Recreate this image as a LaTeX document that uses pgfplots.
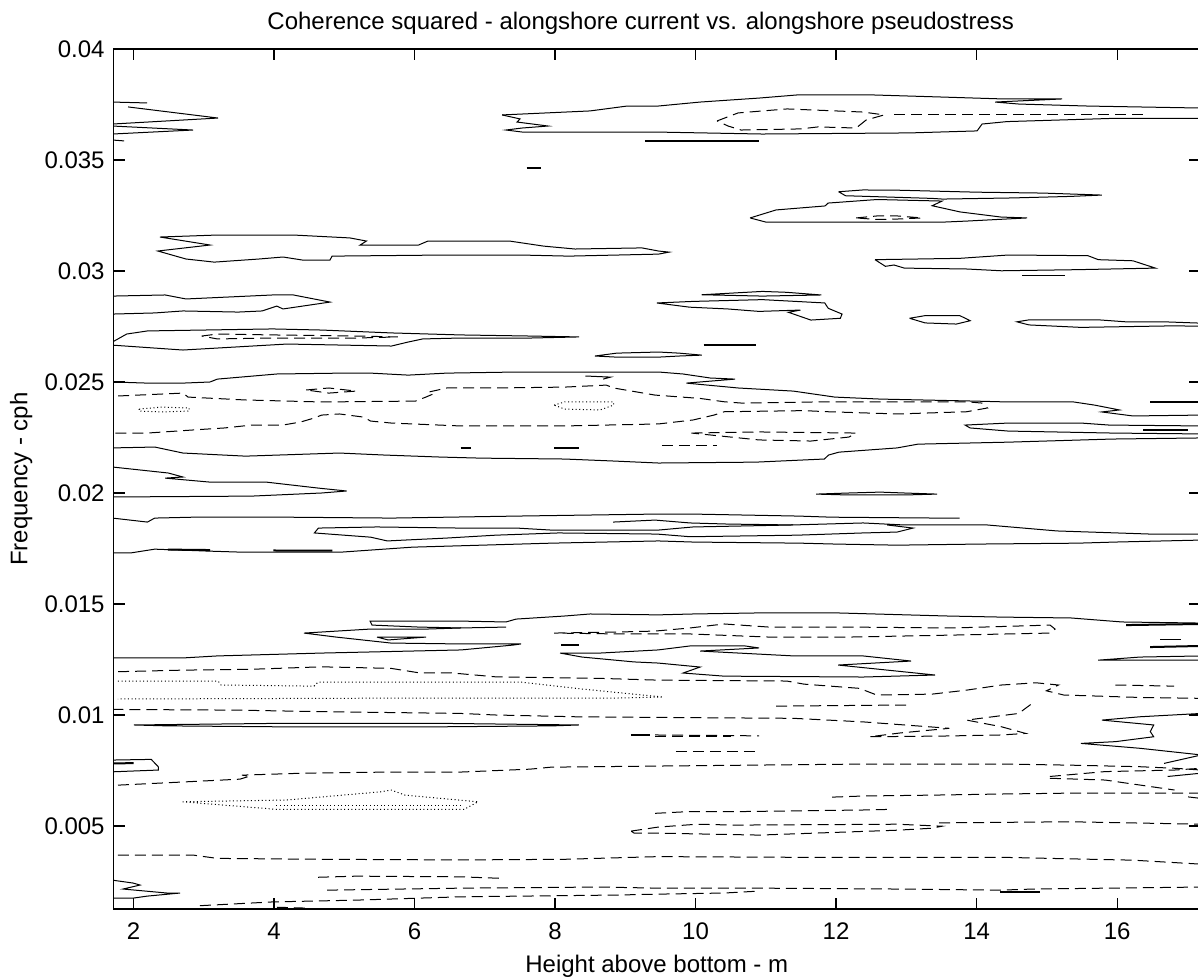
\documentclass[border=0pt]{standalone}
\usepackage{fontspec}
\setmainfont{Liberation Sans}
\usepackage{pgfplots}
\pgfplotsset{compat=1.18}
\pgfplotsset{
  cl/.style={black, line width=0.5pt, mark=none},
  dl/.style={black, line width=0.5pt, mark=none, dash pattern=on 5.5pt off 3pt},
  ol/.style={black, line width=0.5pt, mark=none, dash pattern=on 0.5pt off 1.3pt},
  tk/.style={black, line width=1pt, mark=none},
}
\begin{document}
\begin{tikzpicture}
\begin{axis}[
  scale only axis, width=543.25pt, height=430pt,
  xmin=1.715, xmax=17.18, ymin=0.00126, ymax=0.04,
  xtick={2,4,6,8,10,12,14,16},
  xticklabels={2,4,6,8,10,12,14,16},
  ytick={0.005,0.01,0.015,0.02,0.025,0.03,0.035,0.04},
  yticklabels={0.005,0.01,0.015,0.02,0.025,0.03,0.035,0.04},
  scaled y ticks=false,
  tick align=inside, tick pos=both,
  major tick length=5.5pt,
  axis line style={line width=0.6pt},
  tick style={line width=0.6pt, black},
  tick label style={font=\fontsize{12}{14}\selectfont},
  xticklabel style={anchor=base, yshift=-15pt},
  yticklabel style={anchor=east, inner sep=0pt, xshift=-4.25pt},
]
\coordinate (sw) at (rel axis cs:0,0);
\coordinate (ne) at (rel axis cs:1,1);
\coordinate (tc) at (rel axis cs:0.5,1);
\coordinate (bc) at (rel axis cs:0.5,0);
\coordinate (lc) at (rel axis cs:0,0.5);

% top left cluster near 0.037
\addplot[cl] coordinates {(1.70,0.03761)(2.192,0.03757)};
\addplot[cl] coordinates {(1.922,0.03739)(3.203,0.03689)(1.70,0.03662)};
\addplot[cl] coordinates {(1.70,0.03653)(2.847,0.03635)(1.70,0.03617)};
\addplot[cl] coordinates {(1.70,0.03590)(1.865,0.03586)};
% 0.037 band, right half
\addplot[cl] coordinates {(7.246,0.03703)(8.498,0.03721)(9.025,0.03743)(9.466,0.03743)(10.064,0.03761)(10.904,0.03779)(11.445,0.03793)(12.527,0.03793)(13.466,0.03784)(14.377,0.03775)(15.217,0.03775)(14.263,0.03761)(14.605,0.03752)(15.587,0.03743)(16.299,0.03739)(17.2,0.03734)};
\addplot[cl] coordinates {(7.246,0.03703)(7.502,0.03685)(7.459,0.03671)(7.900,0.03653)(7.530,0.03644)(7.302,0.03635)(7.530,0.03626)(8.498,0.03626)(9.423,0.03626)(10.947,0.03617)(13.053,0.03622)(14.007,0.03631)(14.078,0.03662)(14.434,0.03673)(16.000,0.03688)(17.2,0.03688)};
\addplot[dl] coordinates {(10.306,0.03676)(10.605,0.03712)(11.302,0.03730)(12.384,0.03716)(12.683,0.03703)(12.427,0.03680)(12.285,0.03644)(11.744,0.03649)(11.488,0.03640)(10.648,0.03635)(10.463,0.03653)(10.306,0.03676)};
\addplot[dl] coordinates {(12.826,0.03703)(16.427,0.03703)};
\addplot[tk] coordinates {(9.28,0.03586)(10.904,0.03586)};
\addplot[tk] coordinates {(7.596,0.03464)(7.794,0.03464)};
% 0.033 loops
\addplot[cl] coordinates {(12.036,0.03357)(12.381,0.03365)(12.874,0.03364)(14.007,0.03355)(14.944,0.03351)(15.782,0.03342)(15.338,0.03336)(14.500,0.03329)(13.515,0.03324)(13.367,0.03327)(12.134,0.03339)(12.036,0.03357)};
\addplot[cl] coordinates {(10.776,0.03239)(11.146,0.03275)(11.843,0.03293)(11.886,0.03306)(12.584,0.03322)(13.509,0.03315)(13.367,0.03294)(13.765,0.03266)(14.349,0.03243)(14.719,0.03239)(13.865,0.03225)(13.509,0.03220)(12.868,0.03220)(11.004,0.03220)(10.776,0.03239)};
\addplot[dl] coordinates {(12.285,0.03239)(12.584,0.03248)(12.868,0.03248)(13.224,0.03239)(12.868,0.03234)(12.584,0.03232)(12.285,0.03239)};
% 0.031 band
\addplot[cl] coordinates {(2.376,0.03153)(3.193,0.03162)(4.276,0.03162)(5.078,0.03149)(5.315,0.03135)(5.226,0.03117)(6.057,0.03117)(6.191,0.03135)(7.349,0.03135)(7.839,0.03112)(8.285,0.03099)(9.236,0.03104)(9.472,0.03090)(9.623,0.03085)(9.472,0.03076)(8.195,0.03067)(7.498,0.03072)(6.458,0.03072)(4.826,0.03067)(4.796,0.03049)(4.410,0.03049)(4.128,0.03063)(3.786,0.03054)(3.149,0.03040)(2.747,0.03054)(2.346,0.03090)(3.089,0.03117)(2.376,0.03153)};
% 0.030 loop right
\addplot[cl] coordinates {(12.554,0.03051)(13.761,0.03057)(14.451,0.03072)(15.584,0.03069)(15.733,0.03051)(16.225,0.03046)(16.545,0.03013)(15.436,0.03006)(14.353,0.03001)(13.859,0.03009)(12.972,0.03013)(12.824,0.03027)(12.702,0.03021)(12.554,0.03051)};
\addplot[cl] coordinates {(14.647,0.02979)(15.264,0.02979)};
% 0.029 - 0.028
\addplot[cl] coordinates {(1.70,0.02887)(2.450,0.02892)(2.747,0.02874)(3.979,0.02892)(4.276,0.02892)(4.796,0.02860)(4.128,0.02829)(4.038,0.02842)(3.831,0.02820)(3.489,0.02815)(2.703,0.02820)(2.302,0.02811)(1.70,0.02806)};
\addplot[cl] coordinates {(10.088,0.02893)(10.951,0.02908)(11.297,0.02904)(11.789,0.02892)(10.951,0.02887)(10.088,0.02893)};
\addplot[cl] coordinates {(9.448,0.02856)(9.966,0.02863)(10.951,0.02871)(11.839,0.02856)(11.888,0.02832)(12.085,0.02806)(12.060,0.02787)(11.641,0.02779)(11.321,0.02814)(11.493,0.02824)(10.902,0.02818)(10.458,0.02829)(9.916,0.02837)(9.448,0.02856)};
\addplot[cl] coordinates {(13.046,0.02787)(13.268,0.02799)(13.761,0.02799)(13.909,0.02776)(13.711,0.02761)(13.268,0.02766)(13.046,0.02787)};
\addplot[cl] coordinates {(17.2,0.02765)(16.669,0.02771)(16.127,0.02771)(15.733,0.02780)(14.747,0.02780)(14.574,0.02771)(14.747,0.02757)(15.486,0.02746)(16.817,0.02753)(17.2,0.02751)};
% 0.027 band
\addplot[cl] coordinates {(1.70,0.02680)(1.902,0.02716)(2.198,0.02730)(3.979,0.02739)(4.678,0.02734)(5.671,0.02721)(6.652,0.02712)(7.646,0.02707)(8.343,0.02703)(7.646,0.02698)(6.652,0.02698)(6.117,0.02694)(5.909,0.02680)(5.671,0.02662)(4.186,0.02671)(2.703,0.02644)(1.70,0.02666)};
\addplot[dl] coordinates {(2.969,0.02707)(3.193,0.02716)(3.979,0.02712)(5.167,0.02707)(5.761,0.02703)(5.167,0.02698)(3.979,0.02698)(3.193,0.02694)(2.969,0.02707)};
\addplot[tk] coordinates {(10.114,0.02666)(10.853,0.02666)};
\addplot[cl] coordinates {(8.567,0.02617)(8.878,0.02630)(9.472,0.02635)(9.764,0.02630)(10.088,0.02621)(9.764,0.02617)(9.472,0.02612)(8.878,0.02612)(8.567,0.02617)};
% 0.025 line
\addplot[cl] coordinates {(1.70,0.02500)(2.198,0.02495)(2.703,0.02495)(3.089,0.02500)(3.193,0.02513)(4.038,0.02536)(4.974,0.02540)(5.375,0.02540)(5.909,0.02531)(6.458,0.02540)(7.468,0.02545)(9.472,0.02545)(9.822,0.02536)(10.208,0.02518)(10.562,0.02513)(9.868,0.02495)(10.607,0.02473)(11.391,0.02459)(11.982,0.02432)(12.632,0.02423)(13.963,0.02414)(14.451,0.02410)(15.382,0.02410)(15.678,0.02396)(16.033,0.02374)(15.782,0.02365)(16.226,0.02347)(17.2,0.02351)};
\addplot[tk] coordinates {(16.47,0.02411)(17.2,0.02411)};
\addplot[cl] coordinates {(8.433,0.02527)(8.789,0.02522)(8.685,0.02513)};
% 0.024 dashed
\addplot[dl] coordinates {(1.782,0.02437)(2.703,0.02450)(2.777,0.02432)(3.593,0.02419)(4.678,0.02410)(6.013,0.02414)(6.161,0.02432)(6.265,0.02446)(6.206,0.02455)(6.458,0.02473)(7.156,0.02473)(8.135,0.02477)(8.729,0.02486)(8.833,0.02473)(9.423,0.02441)(10.064,0.02426)(10.406,0.02411)(10.656,0.02405)(11.886,0.02411)(13.859,0.02411)(14.078,0.02405)(14.155,0.02383)(13.859,0.02366)(12.874,0.02356)(11.888,0.02366)(11.543,0.02371)(10.410,0.02366)(10.262,0.02351)(9.966,0.02329)(9.472,0.02311)(8.135,0.02302)(6.652,0.02302)(5.671,0.02315)(5.375,0.02324)(5.271,0.02342)(4.930,0.02356)(4.678,0.02351)(4.574,0.02338)(4.381,0.02320)(4.128,0.02306)(3.683,0.02306)(3.297,0.02293)(2.851,0.02284)(2.198,0.02270)(1.70,0.02270)};
\addplot[dl] coordinates {(4.457,0.02464)(4.781,0.02473)(5.167,0.02459)(4.781,0.02450)(4.457,0.02464)};
\addplot[ol] coordinates {(2.080,0.02378)(2.406,0.02387)(2.791,0.02383)(2.791,0.02369)(2.406,0.02365)(2.080,0.02369)(2.080,0.02378)};
\addplot[ol] coordinates {(7.987,0.02396)(8.135,0.02410)(8.833,0.02410)(8.833,0.02396)(8.641,0.02374)(8.135,0.02378)(7.987,0.02396)};
% 0.023 right
\addplot[cl] coordinates {(17.2,0.02302)(15.886,0.02306)(15.488,0.02315)(14.448,0.02315)(13.836,0.02306)(13.907,0.02293)(14.448,0.02279)(15.930,0.02270)(17.2,0.02266)};
\addplot[tk] coordinates {(16.37,0.02284)(17.01,0.02284)};
\addplot[dl] coordinates {(9.942,0.02270)(10.902,0.02275)(12.282,0.02270)(12.184,0.02252)(11.641,0.02234)(10.902,0.02239)(9.942,0.02270)};
\addplot[dl] coordinates {(9.52,0.02216)(10.31,0.02216)};
% 0.0215 line
\addplot[cl] coordinates {(1.70,0.02203)(2.302,0.02207)(2.703,0.02180)(3.593,0.02166)(4.930,0.02180)(5.567,0.02171)(6.354,0.02162)(6.948,0.02157)(8.135,0.02153)(8.833,0.02144)(9.472,0.02135)(10.858,0.02139)(11.833,0.02153)(11.893,0.02171)(12.041,0.02184)(12.868,0.02203)(13.164,0.02220)(14.451,0.02229)(15.930,0.02243)(17.2,0.02248)};
\addplot[tk] coordinates {(6.656,0.02201)(6.804,0.02201)};
\addplot[tk] coordinates {(7.991,0.02201)(8.339,0.02201)};
% 0.020
\addplot[cl] coordinates {(1.70,0.02117)(2.495,0.02090)(2.703,0.02072)(2.450,0.02067)(3.089,0.02049)(3.890,0.02049)(4.632,0.02022)(5.033,0.02009)(4.678,0.02000)(3.683,0.01986)(1.70,0.01982)};
\addplot[cl] coordinates {(11.715,0.01995)(12.185,0.02000)(12.626,0.02004)(12.968,0.02000)(13.438,0.01995)(12.968,0.01991)(12.185,0.01991)(11.715,0.01995)};
% 0.0185 - 0.0175
\addplot[cl] coordinates {(1.70,0.01887)(2.198,0.01869)(2.302,0.01887)(2.851,0.01891)(4.186,0.01891)(5.671,0.01887)(7.453,0.01896)(9.423,0.01905)(9.970,0.01905)(11.465,0.01896)(11.938,0.01891)(13.460,0.01887)(13.757,0.01887)};
\addplot[cl] coordinates {(8.826,0.01869)(9.423,0.01878)(9.922,0.01865)(10.463,0.01860)(11.388,0.01856)};
\addplot[cl] coordinates {(17.2,0.01815)(16.470,0.01815)(15.146,0.01829)(14.149,0.01856)(12.968,0.01856)(12.384,0.01865)(11.388,0.01856)(9.964,0.01847)(9.472,0.01833)(7.943,0.01833)(7.453,0.01842)(6.652,0.01842)(5.463,0.01847)(4.632,0.01842)(4.574,0.01820)(5.375,0.01801)(5.613,0.01784)(5.865,0.01788)(6.458,0.01797)(7.156,0.01810)(8.047,0.01820)(9.45,0.01815)(9.922,0.01803)(11.445,0.01810)(12.384,0.01820)(12.868,0.01824)(13.096,0.01842)(12.726,0.01856)};
\addplot[cl] coordinates {(1.70,0.01730)(1.960,0.01730)(2.302,0.01747)(3.089,0.01738)(3.489,0.01734)(3.786,0.01734)(4.974,0.01734)(5.969,0.01756)(7.943,0.01774)(9.472,0.01784)(9.970,0.01779)(11.493,0.01774)(11.982,0.01770)(12.868,0.01765)(14.051,0.01770)(15.442,0.01774)(15.974,0.01779)(17.2,0.01788)};
\addplot[tk] coordinates {(2.49,0.01745)(3.09,0.01743)};
\addplot[tk] coordinates {(3.99,0.01741)(4.83,0.01740)};
% 0.014 band
\addplot[cl] coordinates {(17.2,0.01414)(16.071,0.01419)(15.345,0.01437)(14.349,0.01441)(13.566,0.01446)(11.986,0.01460)(10.947,0.01460)(9.964,0.01455)(9.466,0.01451)(8.498,0.01455)(8.142,0.01446)(7.445,0.01432)(7.302,0.01419)(6.648,0.01423)(5.964,0.01423)(5.367,0.01423)(5.395,0.01405)(6.064,0.01396)(6.662,0.01392)(7.302,0.01396)};
\addplot[cl] coordinates {(1.70,0.01257)(2.705,0.01257)(3.189,0.01266)(4.683,0.01279)(6.662,0.01293)(7.402,0.01315)(7.516,0.01320)(6.662,0.01320)(5.665,0.01324)(4.883,0.01351)(4.427,0.01369)(5.367,0.01387)(6.164,0.01387)(6.662,0.01392)};
\addplot[cl] coordinates {(5.466,0.01351)(6.164,0.01351)(5.623,0.01338)(5.466,0.01351)};
\addplot[dl] coordinates {(7.986,0.01369)(8.925,0.01374)(9.423,0.01378)(9.922,0.01392)(10.406,0.01410)(11.046,0.01396)(12.185,0.01396)(13.665,0.01392)(15.046,0.01405)(15.117,0.01387)(15.046,0.01369)(13.665,0.01360)(12.185,0.01351)(11.046,0.01351)(9.922,0.01365)(9.423,0.01365)(8.925,0.01365)(7.986,0.01369)};
% 0.0125 loops
\addplot[cl] coordinates {(8.071,0.01279)(8.641,0.01279)(9.466,0.01293)(9.922,0.01311)(10.705,0.01311)(10.904,0.01302)(10.064,0.01288)(11.402,0.01266)(12.384,0.01266)(13.068,0.01243)(12.028,0.01225)(13.409,0.01180)(12.384,0.01171)(10.406,0.01175)(9.822,0.01189)(10.064,0.01216)(9.466,0.01234)(9.125,0.01239)(8.384,0.01261)(8.071,0.01279)};
\addplot[tk] coordinates {(8.085,0.01315)(8.34,0.01315)};
\addplot[cl] coordinates {(17.2,0.01266)(16.327,0.01261)(15.730,0.01247)(16.327,0.01247)(17.2,0.01247)};
\addplot[tk] coordinates {(16.470,0.01306)(17.2,0.01311)};
\addplot[cl] coordinates {(16.612,0.01338)(16.911,0.01338)};
\addplot[tk] coordinates {(16.128,0.01405)(17.2,0.01410)};
% 0.012 - 0.009 dashed and dotted
\addplot[dl] coordinates {(1.782,0.01195)(2.698,0.01202)(3.687,0.01206)(4.676,0.01217)(5.665,0.01210)(6.063,0.01190)(6.508,0.01190)(7.150,0.01172)(8.635,0.01165)(9.466,0.01157)(11.297,0.01153)(11.543,0.01139)(12.332,0.01120)(12.578,0.01090)(13.367,0.01094)(13.859,0.01112)(14.353,0.01135)(14.846,0.01145)(15.166,0.01135)(14.994,0.01109)(15.240,0.01090)(16.325,0.01079)(17.2,0.01075)};
\addplot[dl] coordinates {(15.975,0.01135)(16.813,0.01130)};
\addplot[dl] coordinates {(11.146,0.01040)(13.025,0.01045)};
\addplot[ol] coordinates {(1.779,0.01153)(3.203,0.01153)(3.246,0.01135)(4.569,0.01130)(4.626,0.01148)(7.302,0.01148)(7.516,0.01148)(8.384,0.01117)(8.826,0.01103)(9.537,0.01081)(8.826,0.01076)(5.794,0.01076)(1.779,0.01072)};
\addplot[dl] coordinates {(1.70,0.01025)(3.441,0.01022)(4.676,0.01015)(6.656,0.01007)(7.150,0.01000)(8.289,0.00992)(9.466,0.00989)(11.395,0.00985)(12.381,0.00969)(13.613,0.00940)(12.911,0.00919)(12.480,0.00902)(13.5,0.00905)(14.353,0.00910)(14.697,0.00917)(14.353,0.00947)(13.859,0.00977)(14.599,0.01007)(14.790,0.01052)};
\addplot[dl] coordinates {(9.423,0.00910)(10.904,0.00906)};
\addplot[dl] coordinates {(9.423,0.00901)(10.5,0.00901)};
\addplot[dl] coordinates {(9.72,0.00834)(10.85,0.00834)};
\addplot[cl] coordinates {(2.006,0.00955)(3.984,0.00962)(6.458,0.00962)(8.339,0.00955)(7.967,0.00951)(6.458,0.00947)(3.984,0.00947)(2.475,0.00951)(2.006,0.00955)};
\addplot[tk] coordinates {(9.08,0.00911)(9.35,0.00911)};
\addplot[cl] coordinates {(17.2,0.01007)(16.325,0.00992)(15.782,0.00977)(16.521,0.00955)(16.472,0.00925)(16.521,0.00902)(15.979,0.00880)(15.486,0.00872)(16.325,0.00850)(17.2,0.00820)};
% 0.008 - 0.006
\addplot[cl] coordinates {(1.70,0.00797)(2.252,0.00800)(2.352,0.00767)(2.352,0.00752)(1.70,0.00744)};
\addplot[tk] coordinates {(1.70,0.00782)(2.0,0.00783)};
\addplot[dl] coordinates {(1.779,0.00684)(2.690,0.00698)(3.516,0.00711)(3.658,0.00725)(3.544,0.00729)(4.427,0.00738)(5.665,0.00743)(6.662,0.00743)(7.644,0.00756)(7.943,0.00765)(9.466,0.00770)(12.381,0.00779)(14.353,0.00779)(15.338,0.00774)(16.325,0.00767)(16.817,0.00760)(17.2,0.00752)};
\addplot[dl] coordinates {(15.042,0.00723)(15.829,0.00745)(16.817,0.00752)(17.2,0.00760)};
\addplot[dl] coordinates {(15.042,0.00715)(15.829,0.00707)(16.817,0.00662)};
\addplot[cl] coordinates {(16.669,0.00782)(17.2,0.00820)};
\addplot[cl] coordinates {(16.719,0.00723)(17.2,0.00738)};
\addplot[cl] coordinates {(17.011,0.00631)(17.2,0.00624)};
\addplot[ol] coordinates {(2.698,0.00609)(4.182,0.00617)(5.517,0.00654)(5.667,0.00662)(5.865,0.00639)(6.904,0.00609)(6.706,0.00575)(4.034,0.00575)(2.698,0.00609)};
\addplot[ol] coordinates {(4.034,0.00594)(6.656,0.00594)};
\addplot[dl] coordinates {(11.943,0.00630)(12.384,0.00635)(13.367,0.00639)(14.349,0.00644)(15.331,0.00648)(16.811,0.00648)(17.2,0.00648)};
\addplot[dl] coordinates {(9.423,0.00557)(9.916,0.00565)(10.656,0.00565)(12.381,0.00572)(12.800,0.00575)};
% 0.005 - 0.004
\addplot[dl] coordinates {(9.082,0.00477)(9.466,0.00495)(10.021,0.00508)(10.562,0.00504)(12.868,0.00508)(13.509,0.00499)(13.367,0.00490)(12.868,0.00481)(10.904,0.00459)(9.423,0.00468)(9.125,0.00468)(9.082,0.00477)};
\addplot[dl] coordinates {(13.466,0.00514)(15.338,0.00519)(17.2,0.00508)};
% 0.0035 and below
\addplot[dl] coordinates {(1.779,0.00369)(2.847,0.00369)(3.193,0.00354)(4.676,0.00350)(6.656,0.00347)(8.141,0.00350)(9.130,0.00359)(9.466,0.00362)(11.395,0.00359)(14.353,0.00359)(15.338,0.00352)(16.228,0.00346)(17.2,0.00328)};
\addplot[dl] coordinates {(4.626,0.00269)(5.172,0.00274)(6.656,0.00271)(7.250,0.00264)};
\addplot[dl] coordinates {(4.754,0.00211)(6.662,0.00220)(8.641,0.00225)(9.466,0.00220)(10.904,0.00220)(12.868,0.00216)(14.335,0.00211)(14.804,0.00216)(17.2,0.00225)};
\addplot[dl] coordinates {(2.945,0.00141)(3.984,0.00158)(5.172,0.00166)(6.656,0.00181)(8.883,0.00189)(9.466,0.00193)(10.406,0.00198)(10.918,0.00207)};
\addplot[dl] coordinates {(4.04,0.00134)(4.47,0.00130)};
\addplot[tk] coordinates {(14.335,0.00202)(14.904,0.00202)};
\addplot[cl] coordinates {(1.70,0.00256)(1.993,0.00243)(2.093,0.00234)(1.851,0.00216)(2.477,0.00198)(2.662,0.00198)(2.192,0.00184)(1.993,0.00175)(1.70,0.00175)};
\end{axis}
\node[anchor=base, font=\fontsize{12}{14}\selectfont] at ([xshift=-8pt,yshift=9.5pt]tc) {Coherence squared - alongshore current vs. alongshore pseudostress};
\node[anchor=base, font=\fontsize{12}{14}\selectfont] at ([yshift=-31.5pt]bc) {Height above bottom - m};
\node[anchor=base, rotate=90, font=\fontsize{12}{14}\selectfont] at ([xshift=-43pt]lc) {Frequency - cph};
\pgfresetboundingbox
\path ([xshift=-56.75pt,yshift=-34.5pt]sw) rectangle ([xshift=-1pt,yshift=24.5pt]ne);
\end{tikzpicture}
\end{document}
